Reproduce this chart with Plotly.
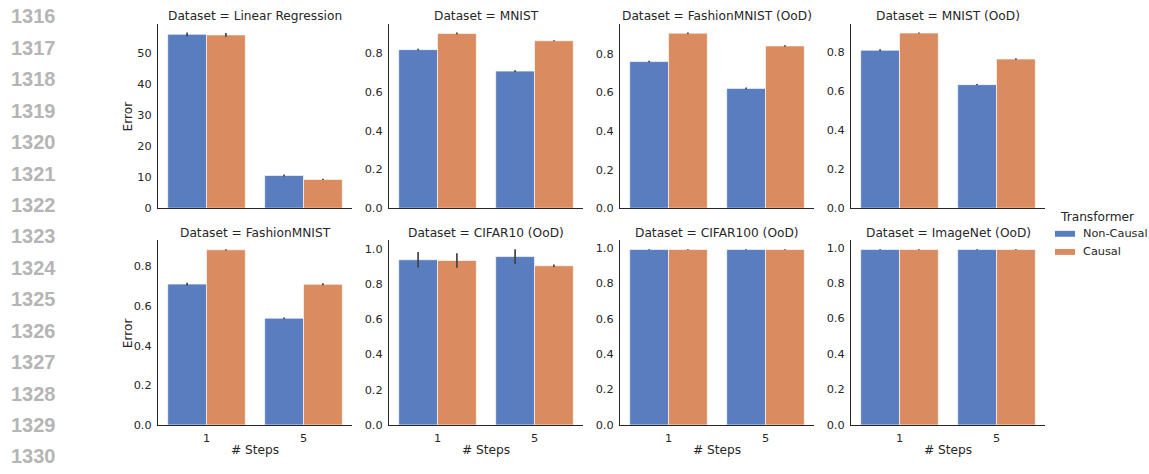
import plotly.graph_objects as go

# ---- data ---------------------------------------------------------------
steps = ["1", "5"]
datasets = [
    "Linear Regression", "MNIST", "FashionMNIST (OoD)", "MNIST (OoD)",
    "FashionMNIST", "CIFAR10 (OoD)", "CIFAR100 (OoD)", "ImageNet (OoD)",
]
# mean error per dataset, values for steps [1, 5]
non_causal = [
    [55.9, 10.5], [0.820, 0.709], [0.760, 0.621], [0.808, 0.632],
    [0.710, 0.538], [0.937, 0.955], [0.990, 0.990], [0.989, 0.989],
]
causal = [
    [55.7, 9.25], [0.904, 0.866], [0.907, 0.841], [0.896, 0.763],
    [0.883, 0.709], [0.933, 0.903], [0.990, 0.990], [0.989, 0.989],
]
# half-width of the confidence interval
non_causal_ci = [
    [0.6, 0.3], [0.004, 0.004], [0.004, 0.005], [0.005, 0.003],
    [0.007, 0.004], [0.044, 0.042], [0.002, 0.002], [0.002, 0.002],
]
causal_ci = [
    [0.6, 0.2], [0.005, 0.003], [0.004, 0.004], [0.003, 0.004],
    [0.003, 0.005], [0.041, 0.007], [0.002, 0.002], [0.002, 0.002],
]
line_numbers = list(range(1316, 1331))

# ---- styling ------------------------------------------------------------
W, H = 1149, 474
BLUE = "#597dbf"
ORANGE = "#da8b5f"
INK = "#262626"
FONT = "DejaVu Sans"

col_left = [158, 389, 620, 851]
panel_w = 194
row_top = [24, 244]
row_bottom = [211.3, 431.3]


def px_x(p):
    return p / W


def px_y(p):
    return 1 - p / H


fig = go.Figure()
annotations = []
shapes = []

for i, name in enumerate(datasets):
    r, c = divmod(i, 4)
    ax = "" if i == 0 else str(i + 1)
    xref, yref = "x" + ax, "y" + ax

    for label, vals, ci, color in (
        ("Non-Causal", non_causal[i], non_causal_ci[i], BLUE),
        ("Causal", causal[i], causal_ci[i], ORANGE),
    ):
        fig.add_trace(go.Bar(
            x=steps, y=vals, name=label, xaxis=xref, yaxis=yref,
            marker=dict(color=color, line=dict(color="rgba(255,255,255,0.8)", width=0.8)),
            error_y=dict(type="data", array=ci, color="#424242", thickness=1.7, width=0),
            showlegend=False,
        ))

    top = max(max(v + e for v, e in zip(vs, es))
              for vs, es in ((non_causal[i], non_causal_ci[i]), (causal[i], causal_ci[i])))
    ymax = top * 1.05
    dtick = 10 if ymax > 5 else 0.2
    fmt = "d" if ymax > 5 else ".1f"

    x0 = col_left[c]
    fig.layout["xaxis" + ax] = dict(
        domain=[px_x(x0), px_x(x0 + panel_w)], anchor=yref,
        type="category", range=[-0.5, 1.5],
        showline=True, linecolor=INK, linewidth=1.2, mirror=False,
        showgrid=False, zeroline=False, ticks="", ticklabelstandoff=2,
        showticklabels=(r == 1), tickfont=dict(family=FONT, size=11.3, color=INK),
    )
    fig.layout["yaxis" + ax] = dict(
        domain=[px_y(row_bottom[r]), px_y(row_top[r])], anchor=xref,
        range=[0, ymax], dtick=dtick, tickformat=fmt,
        showline=True, linecolor=INK, linewidth=1.2,
        showgrid=False, zeroline=False, ticks="", ticklabelstandoff=3,
        tickfont=dict(family=FONT, size=11.3, color=INK),
    )

    annotations.append(dict(
        text=f"Dataset = {name}", xref="paper", yref="paper",
        x=px_x(x0 + panel_w / 2), y=px_y(row_top[r] - 8),
        xanchor="center", yanchor="middle", showarrow=False,
        font=dict(family=FONT, size=12.2, color=INK),
    ))
    if r == 1:
        annotations.append(dict(
            text="# Steps", xref="paper", yref="paper",
            x=px_x(x0 + panel_w / 2), y=px_y(457),
            xanchor="center", yanchor="middle", showarrow=False,
            font=dict(family=FONT, size=12.2, color=INK),
        ))
    if c == 0:
        annotations.append(dict(
            text="Error", xref="paper", yref="paper", textangle=-90,
            x=px_x(127.5), y=px_y((row_top[r] + row_bottom[r]) / 2),
            xanchor="center", yanchor="middle", showarrow=False,
            font=dict(family=FONT, size=12.2, color=INK),
        ))

# legend
annotations.append(dict(
    text="Transformer", xref="paper", yref="paper",
    x=px_x(1097), y=px_y(220), xanchor="center", yanchor="middle",
    showarrow=False, font=dict(family=FONT, size=12.2, color=INK),
))
for k, (label, color) in enumerate((("Non-Causal", BLUE), ("Causal", ORANGE))):
    cy = 237.3 + 18.4 * k
    shapes.append(dict(
        type="rect", xref="paper", yref="paper",
        x0=px_x(1055), x1=px_x(1075), y0=px_y(cy + 3), y1=px_y(cy - 3),
        fillcolor=color, line=dict(width=0),
    ))
    annotations.append(dict(
        text=label, xref="paper", yref="paper",
        x=px_x(1081), y=px_y(cy), xanchor="left", yanchor="middle",
        showarrow=False, font=dict(family=FONT, size=11.3, color=INK),
    ))

# manuscript line numbers in the left gutter
for k, n in enumerate(line_numbers):
    annotations.append(dict(
        text=f"<b>{n}</b>", xref="paper", yref="paper",
        x=px_x(9), y=px_y(16.7 + 31.9 * k), xanchor="left", yanchor="middle",
        showarrow=False, font=dict(family="Liberation Sans", size=20, color="#b5b5b5"),
    ))

fig.update_layout(
    width=W, height=H, margin=dict(l=0, r=0, t=0, b=0),
    paper_bgcolor="white", plot_bgcolor="white",
    barmode="group", bargap=0.2, bargroupgap=0,
    annotations=annotations, shapes=shapes, showlegend=False,
)

fig.write_html("out.html")
